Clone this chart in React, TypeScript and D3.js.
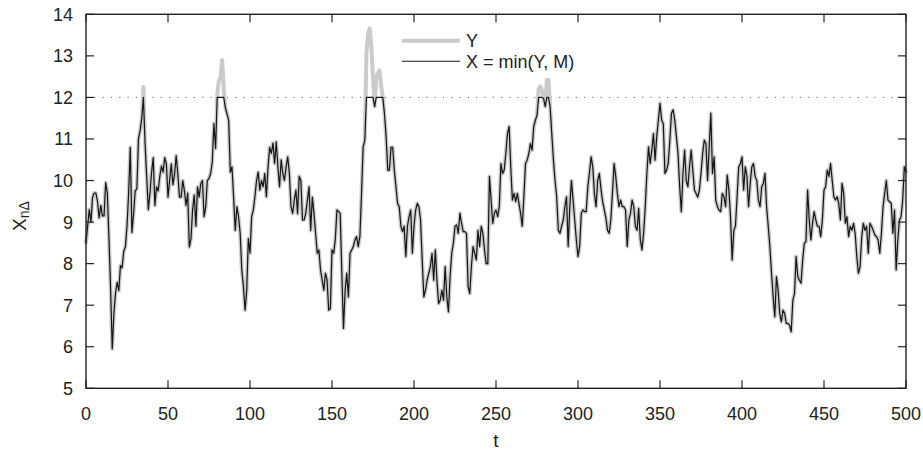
import React from 'react';
import * as d3 from 'd3';

// Y series, one value per t = 0..500
const yValues: number[] = [
  8.5, 8.9, 9.3, 9.0, 9.6, 9.7, 9.7, 9.5, 9.1, 9.4,
  9.15, 9.15, 9.95, 9.7, 8.6, 7.4, 5.95, 6.8, 7.3, 7.55,
  7.35, 7.95, 7.9, 8.3, 8.4, 8.9, 9.7, 10.8, 8.75, 9.2,
  9.75, 9.8, 11.0, 11.2, 11.5, 12.25, 10.9, 10.1, 9.3, 9.7,
  10.2, 10.55, 9.4, 9.85, 9.75, 10.1, 10.35, 10.2, 10.55, 10.4,
  9.6, 10.0, 10.4, 9.9, 10.15, 10.6, 10.15, 9.6, 9.6, 10.0,
  9.75, 9.4, 9.7, 8.4, 8.6, 9.3, 9.65, 8.9, 9.85, 9.6,
  9.93, 10.0, 9.13, 9.37, 10.0, 10.05, 10.17, 10.45, 11.37, 10.77,
  12.05, 12.4, 12.45, 12.9, 12.2, 11.75, 11.6, 11.45, 10.2, 10.33,
  9.6, 8.8, 9.37, 9.13, 8.73, 7.85, 7.45, 6.88, 7.36, 8.6,
  8.25, 9.13, 9.29, 9.61, 10.0, 10.2, 9.77, 10.0, 9.85, 10.17,
  9.61, 10.33, 10.8, 10.65, 10.9, 10.41, 10.93, 10.33, 9.85, 10.5,
  10.17, 10.0, 10.33, 10.57, 10.17, 9.37, 9.21, 9.53, 9.77, 9.2,
  10.1, 10.0, 9.05, 9.05, 9.21, 9.53, 9.85, 8.8, 9.6, 9.21,
  8.73, 8.25, 8.33, 7.85, 7.6, 7.36, 7.77, 7.6, 6.88, 6.92,
  8.33, 8.25, 8.57, 9.29, 9.25, 9.21, 7.77, 6.44, 7.36, 7.77,
  7.2, 8.25, 8.33, 8.41, 8.57, 8.65, 8.41, 8.65, 9.69, 10.81,
  10.97, 13.06, 13.54, 13.66, 13.2, 12.5, 11.78, 12.5, 12.58, 12.65,
  12.26, 12.0, 11.6, 11.05, 10.25, 10.25, 10.8, 10.8, 10.25, 9.85,
  9.45, 9.37, 8.9, 8.77, 8.9, 8.17, 8.9, 9.13, 9.29, 8.25,
  8.9, 9.29, 9.45, 9.37, 9.05, 8.09, 7.2, 7.36, 7.6, 7.77,
  7.93, 8.25, 7.6, 8.33, 7.6, 7.04, 7.12, 7.36, 7.12, 7.93,
  7.2, 6.84, 7.69, 8.25, 8.49, 8.9, 8.93, 8.73, 9.21, 8.97,
  8.77, 8.77, 8.73, 7.45, 7.28, 7.93, 8.41, 8.25, 8.09, 8.8,
  8.41, 8.9, 8.73, 8.33, 8.0, 8.0, 10.1, 9.53, 8.97, 9.21,
  9.29, 9.13, 9.37, 10.41, 10.17, 10.25, 10.65, 11.13, 11.3, 10.33,
  9.53, 9.69, 9.49, 9.69, 9.45, 9.21, 8.9, 9.61, 10.41, 10.49,
  10.65, 10.89, 10.73, 11.3, 11.45, 11.57, 12.2, 12.26, 12.18, 11.98,
  11.78, 12.42, 12.42, 11.78, 11.13, 10.5, 10.0, 9.61, 8.8, 8.73,
  8.9, 9.05, 9.37, 9.61, 8.41, 9.37, 10.0, 9.53, 9.05, 8.57,
  8.17, 8.41, 9.21, 9.29, 9.25, 9.25, 9.85, 10.2, 10.57, 10.33,
  9.69, 9.37, 10.0, 10.17, 9.8, 9.5, 9.3, 9.1, 8.8, 8.73,
  9.05, 9.69, 10.41, 10.1, 9.69, 9.37, 9.53, 9.37, 9.37, 9.29,
  8.41, 9.05, 9.21, 9.53, 9.37, 8.9, 8.8, 9.33, 8.57, 8.33,
  8.73, 9.37, 10.17, 10.81, 10.41, 10.73, 11.13, 10.49, 11.05, 11.45,
  11.86, 11.45, 11.37, 10.17, 10.25, 10.41, 10.97, 11.62, 11.7, 11.45,
  11.05, 10.65, 9.85, 9.25, 10.17, 10.73, 10.0, 9.85, 10.33, 10.73,
  10.25, 9.77, 9.69, 9.6, 9.77, 10.17, 10.65, 10.97, 10.89, 10.0,
  10.8, 11.62, 10.17, 10.57, 9.53, 9.37, 9.29, 9.25, 9.69, 9.61,
  9.37, 10.13, 9.77, 9.13, 8.09, 8.8, 8.9, 9.61, 10.33, 10.4,
  10.57, 9.77, 10.33, 10.1, 9.37, 9.93, 10.33, 10.41, 10.1, 10.0,
  9.53, 9.37, 9.85, 9.93, 10.17, 9.37, 8.9, 8.41, 7.77, 7.2,
  6.72, 7.69, 7.36, 6.8, 6.6, 6.88, 6.8, 6.56, 6.56, 6.52,
  6.36, 7.12, 7.28, 8.17, 7.69, 7.6, 7.53, 8.09, 8.49, 8.53,
  9.77, 9.05, 8.57, 8.97, 9.25, 9.05, 8.9, 8.9, 8.65, 9.05,
  9.77, 9.85, 10.25, 10.1, 10.41, 10.0, 9.61, 9.53, 9.61, 9.45,
  9.05, 9.93, 9.69, 8.97, 9.13, 8.65, 8.9, 8.8, 8.97, 8.73,
  8.17, 7.77, 7.93, 8.65, 8.97, 8.8, 8.9, 8.25, 8.97, 8.9,
  8.8, 8.69, 8.65, 8.57, 8.25, 8.73, 9.37, 9.69, 10.0, 9.53,
  9.49, 9.45, 8.73, 9.29, 7.85, 8.57, 9.05, 9.13, 9.53, 10.33,
  10.2,
];

const capM = 12;
const xTicks = [0, 50, 100, 150, 200, 250, 300, 350, 400, 450, 500];
const yTicks = [5, 6, 7, 8, 9, 10, 11, 12, 13, 14];
const legendLabels = ['Y', 'X = min(Y, M)'];

const FONT = '"Liberation Sans", Arial, Helvetica, sans-serif';

export default function App() {
  const W = 923;
  const H = 457;
  const left = 86, right = 906, top = 14.3, bottom = 388.3;
  const x = d3.scaleLinear().domain([0, 500]).range([left, right]);
  const y = d3.scaleLinear().domain([5, 14]).range([bottom, top]);

  const xSeries = yValues.map((v) => Math.min(v, capM));
  const line = d3
    .line<number>()
    .x((_, i) => x(i))
    .y((d) => y(d));

  const tickLen = 8;
  const axisColor = '#222';

  return (
    <svg
      width={W}
      height={H}
      style={{ position: 'absolute', left: 0, top: 0, background: '#fff' }}
      fontFamily={FONT}
    >
      <rect x={0} y={0} width={W} height={H} fill="#fff" />
      {/* M threshold dotted line */}
      <line
        x1={left}
        x2={right}
        y1={y(capM)}
        y2={y(capM)}
        stroke="#666"
        strokeWidth={1}
        strokeDasharray="1.2,7.1"
      />
      {/* Y series */}
      <path d={line(yValues) || ''} fill="none" stroke="#cbcbcb" strokeWidth={4} strokeLinejoin="round" strokeLinecap="round" />
      {/* X series */}
      <path d={line(xSeries) || ''} fill="none" stroke="#151515" strokeWidth={1.2} strokeLinejoin="round" />

      {/* frame */}
      <rect
        x={left}
        y={top}
        width={right - left}
        height={bottom - top}
        fill="none"
        stroke={axisColor}
        strokeWidth={1.4}
      />
      {/* x ticks */}
      {xTicks.map((t) => (
        <g key={'xt' + t}>
          <line x1={x(t)} x2={x(t)} y1={bottom} y2={bottom - tickLen} stroke={axisColor} strokeWidth={1.2} />
          <line x1={x(t)} x2={x(t)} y1={top} y2={top + tickLen} stroke={axisColor} strokeWidth={1.2} />
          <text x={x(t)} y={bottom + 32} textAnchor="middle" fontSize={18} fill="#222">
            {t}
          </text>
        </g>
      ))}
      {/* y ticks */}
      {yTicks.map((v) => (
        <g key={'yt' + v}>
          <line x1={left} x2={left + tickLen} y1={y(v)} y2={y(v)} stroke={axisColor} strokeWidth={1.2} />
          <line x1={right} x2={right - tickLen} y1={y(v)} y2={y(v)} stroke={axisColor} strokeWidth={1.2} />
          <text x={73} y={y(v) + 6.5} textAnchor="end" fontSize={18} fill="#222">
            {v}
          </text>
        </g>
      ))}

      {/* axis labels */}
      <text x={x(250)} y={447} textAnchor="middle" fontSize={19} fill="#222">
        t
      </text>
      <text transform="translate(25.5, 231) rotate(-90)" fontSize={19} fill="#222">
        X
        <tspan fontSize={14} dy={3}>
          nΔ
        </tspan>
      </text>

      {/* legend */}
      <line x1={402} x2={460} y1={40.7} y2={40.7} stroke="#cbcbcb" strokeWidth={4} />
      <text x={466} y={47.3} fontSize={18} fill="#222">
        {legendLabels[0]}
      </text>
      <line x1={402} x2={460} y1={61.3} y2={61.3} stroke="#151515" strokeWidth={1.1} />
      <text x={466} y={68} fontSize={18} fill="#222">
        {legendLabels[1]}
      </text>
    </svg>
  );
}
